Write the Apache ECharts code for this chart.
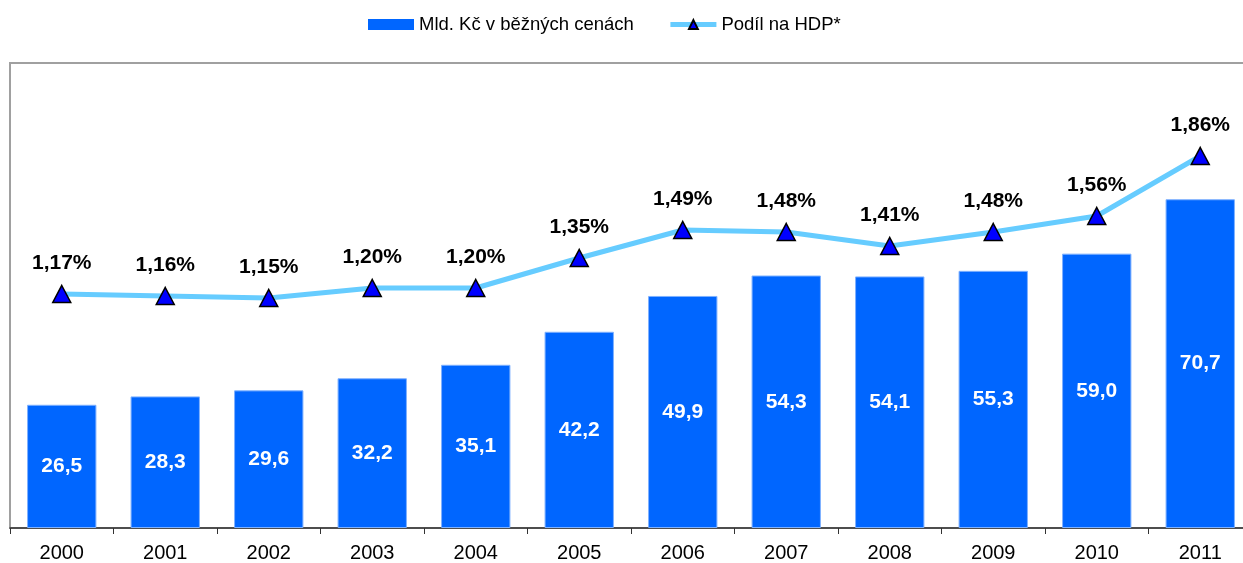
<!DOCTYPE html>
<html>
<head>
<meta charset="utf-8">
<script src="https://cdn.jsdelivr.net/npm/echarts@6/dist/echarts.min.js"></script>
<style>
    html, body { margin: 0; padding: 0; background: #fff; }
    #chart { width: 1243px; height: 563px; }
</style>
</head>
<body>
<div id="chart"></div>
<script>
// data
var years = ['2000', '2001', '2002', '2003', '2004', '2005', '2006', '2007', '2008', '2009', '2010', '2011'];
var mldKc = [26.5, 28.3, 29.6, 32.2, 35.1, 42.2, 49.9, 54.3, 54.1, 55.3, 59.0, 70.7];
var podilHdp = [1.17, 1.16, 1.15, 1.20, 1.20, 1.35, 1.49, 1.48, 1.41, 1.48, 1.56, 1.86];

var fontName = '"Liberation Sans", Arial, sans-serif';

function czNum(v, digits) {
    return v.toFixed(digits).replace('.', ',');
}

var chart = echarts.init(document.getElementById('chart'));
var option = {
    animation: false,
    textStyle: { fontFamily: fontName },
    legend: {
        left: 363,
        top: 10,
        itemWidth: 46,
        itemHeight: 11,
        itemGap: 34,
        textStyle: { fontSize: 18.5, color: '#000', fontFamily: fontName },
        data: [
            { name: 'Mld. Kč v běžných cenách', icon: 'rect', itemStyle: { borderWidth: 0 } },
            { name: 'Podíl na HDP*', lineStyle: { width: 5, color: '#66ccff' } }
        ]
    },
    grid: {
        left: 10,
        top: 63,
        width: 1242,
        bottom: 35,
        outerBoundsMode: 'none',
        show: true,
        borderColor: '#a0a0a0',
        borderWidth: 2,
        containLabel: false
    },
    xAxis: [{
        type: 'category',
        data: years,
        axisLine: { lineStyle: { color: '#333', width: 1.5 } },
        axisTick: { show: true, length: 6, lineStyle: { color: '#333' } },
        axisLabel: { color: '#000', fontSize: 20, margin: 15, fontFamily: fontName }
    }],
    yAxis: [{
        type: 'value',
        min: 0,
        max: 100,
        show: false
    }, {
        type: 'value',
        min: 0,
        max: 2.325,
        show: false
    }],
    series: [{
        name: 'Mld. Kč v běžných cenách',
        type: 'bar',
        barWidth: '67%',
        data: mldKc,
        itemStyle: { color: '#0066ff', borderColor: '#7fb2ff', borderWidth: 1 },
        label: {
            show: true,
            position: 'inside',
            color: '#fff',
            fontSize: 21,
            fontWeight: 'bold',
            fontFamily: fontName,
            formatter: function (p) { return czNum(p.value, 1); }
        }
    }, {
        name: 'Podíl na HDP*',
        type: 'line',
        yAxisIndex: 1,
        data: podilHdp,
        symbol: 'triangle',
        symbolSize: [18, 17],
        lineStyle: { color: '#66ccff', width: 5 },
        itemStyle: { color: '#0000ff', borderColor: '#000', borderWidth: 1.5 },
        label: {
            show: true,
            position: 'top',
            distance: 11,
            color: '#000',
            fontSize: 21,
            fontWeight: 'bold',
            fontFamily: fontName,
            formatter: function (p) { return czNum(p.value, 2) + '%'; }
        },
        z: 3
    }]
};
chart.setOption(option);
</script>
</body>
</html>
